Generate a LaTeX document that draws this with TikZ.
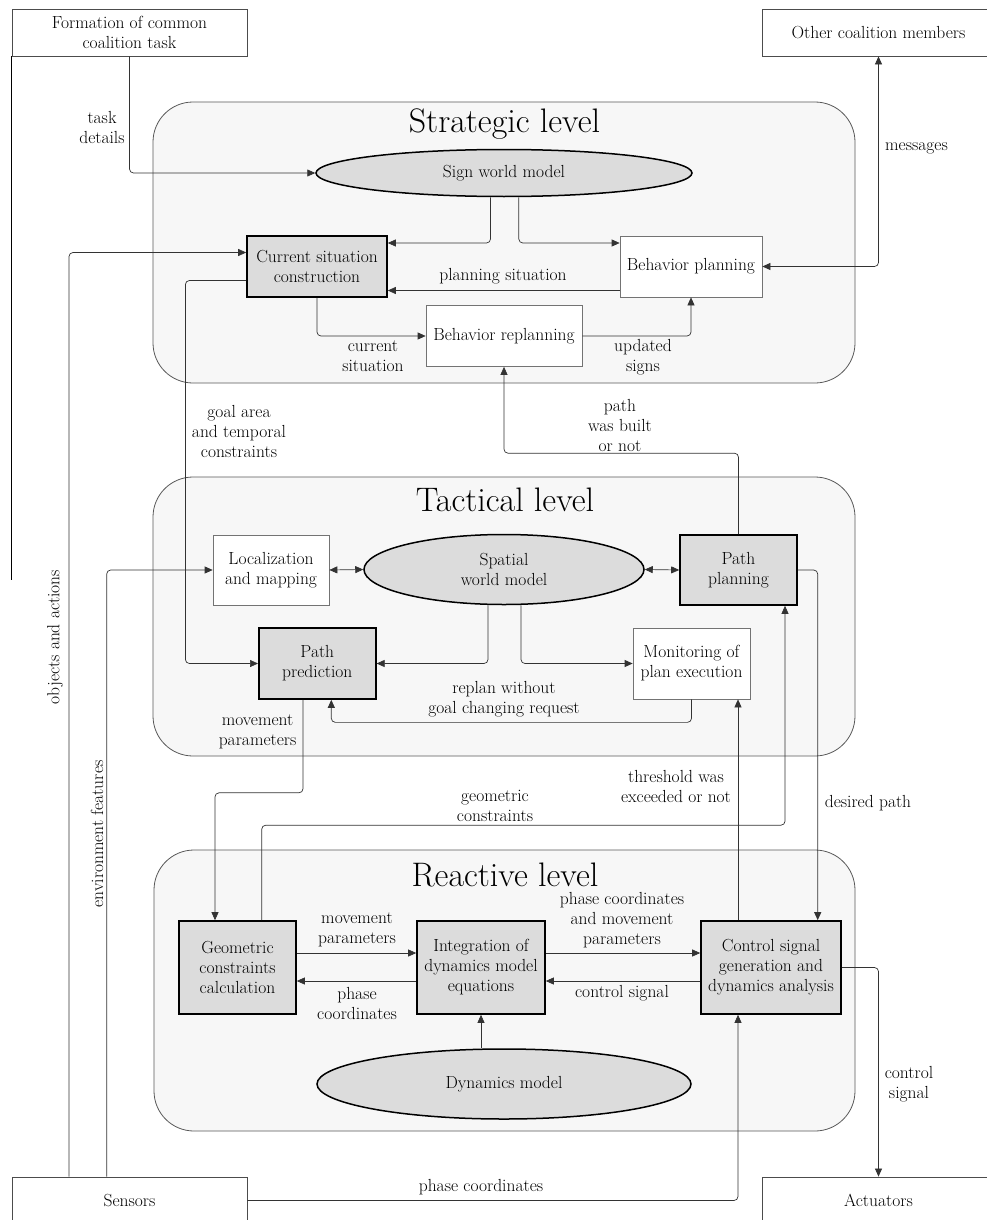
\documentclass[tikz,border=0pt]{standalone}
\usepackage{fontspec}
\usetikzlibrary{shapes.geometric,arrows.meta,calc}
\definecolor{panelfill}{HTML}{F7F7F7}
\definecolor{boxgray}{HTML}{DCDCDC}
\definecolor{linegray}{HTML}{333333}
\begin{document}
\begin{tikzpicture}[x=1pt,y=-1pt,
  every node/.style={font=\fontsize{17.5}{20}\selectfont, inner sep=0pt},
  panel/.style={draw=black!65, fill=panelfill, rounded corners=40pt, line width=0.8pt},
  title/.style={font=\fontsize{34}{40}\selectfont},
  plainbox/.style={draw=black!55, fill=white, line width=0.7pt, align=center},
  keybox/.style={draw=black, fill=boxgray, line width=1.6pt, align=center},
  model/.style={ellipse, draw=black, fill=boxgray, line width=1.5pt, align=center},
  extbox/.style={draw=black!70, fill=white, line width=0.8pt, align=center},
  conn/.style={draw=linegray, line width=0.7pt, rounded corners=4pt, -{Triangle[length=8pt,width=7pt]}},
  twoway/.style={draw=linegray, line width=0.7pt, rounded corners=4pt, {Triangle[length=8pt,width=7pt]}-{Triangle[length=8pt,width=7pt]}},
  lbl/.style={align=center, text=black}
]
\useasboundingbox (0,0) rectangle (987,1220);

% external boxes
\node[extbox, minimum width=235, minimum height=47] (formation) at (129.5,32.5) {Formation of common\\coalition task};
\node[extbox, minimum width=233, minimum height=47] (other) at (878.5,32.5) {Other coalition members};
\node[extbox, minimum width=235, minimum height=47] (sensors) at (129.5,1200.5) {Sensors};
\node[extbox, minimum width=233, minimum height=47] (actuators) at (878.5,1200.5) {Actuators};
\draw[black, line width=0.8pt] (formation.south west) -- (formation.south west |- 0,580);

% panels
\node[panel, minimum width=702, minimum height=281] (strategic) at (504,242.5) {};
\node[panel, minimum width=702, minimum height=279] (tactical) at (504,616.5) {};
\node[panel, minimum width=701, minimum height=281] (reactive) at (504.5,990.5) {};
\node[title] (t1) at (504.5,124) {Strategic level};
\node[title] (t2) at (505,500) {Tactical level};
\node[title] (t3) at (505,875) {Reactive level};

% strategic level
\node[model, minimum width=376, minimum height=47] (sign) at (504,173) {Sign world model};
\node[keybox, minimum width=140, minimum height=61] (csc) at (317,266.5) {Current situation\\construction};
\node[plainbox, minimum width=142, minimum height=61] (bp) at (691,266.5) {Behavior planning};
\node[plainbox, minimum width=156, minimum height=61] (br) at (504,336) {Behavior replanning};

% tactical level
\node[plainbox, minimum width=116, minimum height=70] (loc) at (271,570) {Localization\\and mapping};
\node[model, minimum width=280, minimum height=70] (swm) at (504,569.5) {Spatial\\world model};
\node[keybox, minimum width=117, minimum height=70] (pp) at (738.5,570) {Path\\planning};
\node[keybox, minimum width=117, minimum height=71] (ppred) at (317.3,663.5) {Path\\prediction};
\node[plainbox, minimum width=117, minimum height=71] (mon) at (691.5,663.5) {Monitoring of\\plan execution};

% reactive level
\node[keybox, minimum width=117, minimum height=93] (geo) at (237.5,967.5) {Geometric\\constraints\\calculation};
\node[keybox, minimum width=128, minimum height=93] (integ) at (481,967.5) {Integration of\\dynamics model\\equations};
\node[keybox, minimum width=140, minimum height=93] (control) at (771,967.5) {Control signal\\generation and\\dynamics analysis};
\node[model, minimum width=374, minimum height=70] (dm) at (504,1084) {Dynamics model};

% connectors: strategic
\draw[conn] (formation.south) |- (sign.west);
\draw[twoway] (bp.east) -| (other.south);
\draw[conn] ([xshift=-13.5pt]sign.south) |- ([yshift=23.5pt]csc.east);
\draw[conn] ([xshift=14.8pt]sign.south) |- ([yshift=23.5pt]bp.west);
\draw[conn] ([yshift=-24pt]bp.west) -- ([yshift=-24pt]csc.east);
\draw[conn] (csc.south) |- (br.west);
\draw[conn] (br.east) -| (bp.south);
\draw[conn] ([xshift=-60.5pt]sensors.north) |- ([yshift=14pt]csc.west);
\draw[conn] ([yshift=-14pt]csc.west) -| ([xshift=-72.6pt]ppred.west) -- (ppred.west);
\draw[conn] (pp.north) -- ++(0,-81) -| (br.south);

% connectors: tactical
\draw[conn] ([xshift=-22.8pt]sensors.north) |- (loc.west);
\draw[twoway] (loc.east) -- (swm.west);
\draw[twoway] (swm.east) -- (pp.west);
\draw[conn] ([xshift=-16pt]swm.south) |- (ppred.east);
\draw[conn] ([xshift=17pt]swm.south) |- (mon.west);
\draw[conn] (mon.south) -- ++(0,23) -| ([xshift=14pt]ppred.south);
\draw[conn] ([xshift=-14.3pt]ppred.south) -- ++(0,93) -| ([xshift=-22.5pt]geo.north);
\draw[conn] ([xshift=24.2pt]geo.north) -- ++(0,-95) -| ([xshift=46.5pt]pp.south);
\draw[conn] ([xshift=-33pt]control.north) -- ([xshift=-33pt]control.north |- mon.south);
\draw[conn] (pp.east) -| ([xshift=46.7pt]control.north);

% connectors: reactive
\draw[conn] ([yshift=14.5pt]geo.east) -- ([yshift=14.5pt]integ.west);
\draw[conn] ([yshift=-13.5pt]integ.west) -- ([yshift=-13.5pt]geo.east);
\draw[conn] ([yshift=14.5pt]integ.east) -- ([yshift=14.5pt]control.west);
\draw[conn] ([yshift=-13.5pt]control.west) -- ([yshift=-13.5pt]integ.east);
\draw[conn] (integ.south |- dm.north) -- (integ.south);
\draw[conn] (sensors.east) -| ([xshift=-33pt]control.south);
\draw[conn] (control.east) -| (actuators.north);

% labels
\node[lbl] (ltask) at (102,127) {task\\details};
\node[lbl] (lmsg) at (916.5,148) {messages};
\node[lbl] (lplan) at (503,276) {planning situation};
\node[lbl] (lcur) at (373,356) {current\\situation};
\node[lbl] (lupd) at (643,357) {updated\\signs};
\node[lbl] (lgoal) at (239,431) {goal area\\and temporal\\constraints};
\node[lbl] (lbuilt) at (620,425) {path\\was built\\or not};
\node[lbl] (lreplan) at (504,699) {replan without\\goal changing request};
\node[lbl] (lmove1) at (257.6,732) {movement\\parameters};
\node[lbl] (lgeo) at (495,806) {geometric\\constraints};
\node[lbl] (lthr) at (676,786) {threshold was\\exceeded or not};
\node[lbl] (ldes) at (868,803) {desired path};
\node[lbl] (lmove2) at (357,930) {movement\\parameters};
\node[lbl] (lphase1) at (357,1003) {phase\\coordinates};
\node[lbl] (lphase2) at (622,920) {phase coordinates\\and movement\\parameters};
\node[lbl] (lctrl1) at (622,993) {control signal};
\node[lbl] (lphase3) at (481,1187) {phase coordinates};
\node[lbl] (lctrl2) at (909,1084) {control\\signal};
\node[lbl, rotate=90] (lobj) at (55,637) {objects and actions};
\node[lbl, rotate=90] (lenv) at (97,834) {environment features};
\end{tikzpicture}
\end{document}
